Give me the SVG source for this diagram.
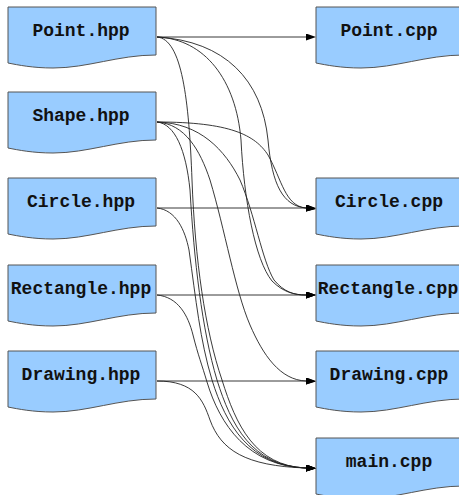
<svg xmlns="http://www.w3.org/2000/svg" width="459" height="495" viewBox="0 0 459 495">
<style>
.doc{fill:#99ccff;stroke:#555;stroke-width:1}
.lbl{font-family:"Liberation Mono","Courier New",monospace;font-weight:bold;font-size:18px;fill:#111;text-anchor:middle}
.e{fill:none;stroke:#222;stroke-width:0.9;marker-end:url(#arr)}
</style>
<defs>
<path id="docshape" d="M0,0 H148 V48 C110,48 80,61 45,61 C25,61 10,58 0,56 Z"/>
<marker id="arr" viewBox="0 0 10 7" refX="0" refY="3.5" markerWidth="10" markerHeight="7" markerUnits="userSpaceOnUse" orient="auto">
<path d="M0,0 L10,3.5 L0,7 Z" fill="#000"/>
</marker>
</defs>
<g id="edges">
<path class="e" d="M157,37 L306,37"/>
<path class="e" d="M157,37 C225,41 262,80 268,140 C272,185 283,206 306,208"/>
<path class="e" d="M157,37 C205,39 236,80 241,140 C244,200 255,260 272,281 C283,292 294,295 306,295"/>
<path class="e" d="M157,37 C182,39 189,100 192,180 C195,260 205,330 222,380 C236,425 255,466 306,468"/>
<path class="e" d="M157,122 C230,122 255,135 268,155 C282,180 285,206 306,208"/>
<path class="e" d="M157,122 C200,123 225,150 240,180 C255,215 262,260 274,280 C284,292 294,295 306,295"/>
<path class="e" d="M157,122 C185,124 200,150 210,180 C225,230 235,290 250,325 C263,355 280,380 306,381"/>
<path class="e" d="M157,122 C175,124 186,150 190,190 C194,260 202,330 217,380 C231,425 252,466 306,468"/>
<path class="e" d="M157,208 L306,208"/>
<path class="e" d="M157,208 C176,210 185,230 189,250 C196,300 200,340 212,380 C226,425 250,466 306,468"/>
<path class="e" d="M157,295 L306,295"/>
<path class="e" d="M157,295 C178,297 188,315 193,335 C198,355 202,365 207,382 C220,425 248,466 306,468"/>
<path class="e" d="M157,381 L306,381"/>
<path class="e" d="M157,381 C195,381 203,400 210,420 C221,450 245,466 306,468"/>
</g>
<g id="point_hpp"><use href="#docshape" class="doc" x="8" y="7"/><text class="lbl" x="81" y="36">Point.hpp</text></g>
<g id="shape_hpp"><use href="#docshape" class="doc" x="8" y="92"/><text class="lbl" x="81" y="121">Shape.hpp</text></g>
<g id="circle_hpp"><use href="#docshape" class="doc" x="8" y="178"/><text class="lbl" x="81" y="207">Circle.hpp</text></g>
<g id="rectangle_hpp"><use href="#docshape" class="doc" x="8" y="265"/><text class="lbl" x="81" y="294">Rectangle.hpp</text></g>
<g id="drawing_hpp"><use href="#docshape" class="doc" x="8" y="351"/><text class="lbl" x="81" y="380">Drawing.hpp</text></g>
<g id="point_cpp"><use href="#docshape" class="doc" x="316" y="7"/><text class="lbl" x="389" y="36">Point.cpp</text></g>
<g id="circle_cpp"><use href="#docshape" class="doc" x="316" y="178"/><text class="lbl" x="389" y="207">Circle.cpp</text></g>
<g id="rectangle_cpp"><use href="#docshape" class="doc" x="316" y="265"/><text class="lbl" x="388" y="294">Rectangle.cpp</text></g>
<g id="drawing_cpp"><use href="#docshape" class="doc" x="316" y="351"/><text class="lbl" x="389" y="380">Drawing.cpp</text></g>
<g id="main_cpp"><use href="#docshape" class="doc" x="316" y="438"/><text class="lbl" x="389" y="467">main.cpp</text></g>
</svg>
